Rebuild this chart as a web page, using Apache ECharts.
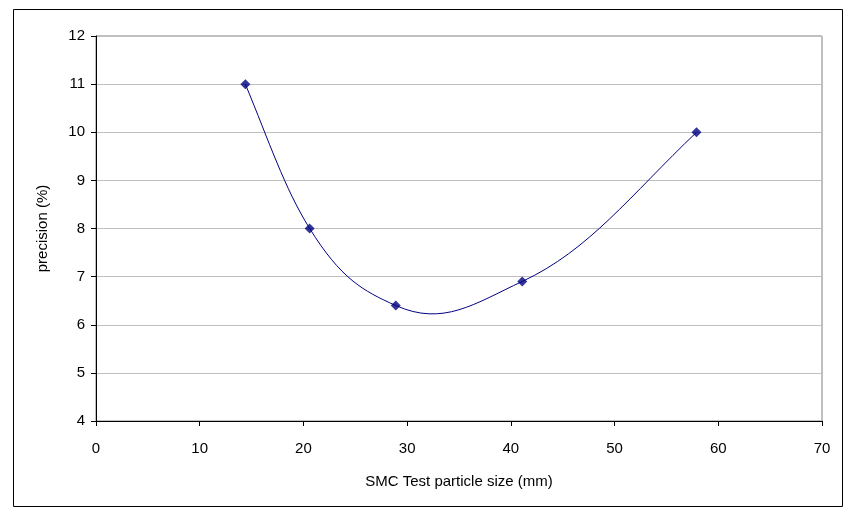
<!DOCTYPE html>
<html>
<head>
<meta charset="utf-8">
<script src="https://cdn.jsdelivr.net/npm/echarts@6/dist/echarts.min.js"></script>
<style>
  html, body { margin: 0; padding: 0; background: #fff; }
  #chart { width: 852px; height: 514px; }
</style>
</head>
<body>
<div id="chart"></div>
<script>
// particle size (mm) vs precision (%)
var particle_size = [14.4, 20.6, 28.9, 41.1, 57.9];
var precision = [11, 8, 6.4, 6.9, 10];

var points = particle_size.map(function (x, i) {
    return [x, precision[i]];
});

var font = 'Liberation Sans, Arial, sans-serif';

// smoothed line: chord-length catmull-rom in data units, drawn as beziers
function renderCurve(params, api) {
    if (params.dataIndex !== 0) return;
    var n = points.length;
    var d = [];
    for (var i = 0; i < n - 1; i++) {
        var dx = points[i + 1][0] - points[i][0];
        var dy = points[i + 1][1] - points[i][1];
        d.push(Math.sqrt(dx * dx + dy * dy));
    }
    function chord(i) {
        return [(points[i + 1][0] - points[i][0]) / d[i], (points[i + 1][1] - points[i][1]) / d[i]];
    }
    var m = [];
    for (var i = 1; i < n - 1; i++) {
        var a = chord(i - 1), b = chord(i);
        var span = d[i - 1] + d[i];
        var sx = (points[i + 1][0] - points[i - 1][0]) / span;
        var sy = (points[i + 1][1] - points[i - 1][1]) / span;
        m[i] = [a[0] - sx + b[0], a[1] - sy + b[1]];
    }
    var c0 = chord(0), cn = chord(n - 2);
    m[0] = [1.25 * c0[0] - 0.25 * m[1][0], 1.25 * c0[1] - 0.25 * m[1][1]];
    m[n - 1] = [1.25 * cn[0] - 0.25 * m[n - 2][0], 1.25 * cn[1] - 0.25 * m[n - 2][1]];

    var f = 0.38;
    var start = api.coord(points[0]);
    var path = 'M' + start[0] + ' ' + start[1];
    for (var i = 0; i < n - 1; i++) {
        var p = points[i], q = points[i + 1];
        var k1 = api.coord([p[0] + m[i][0] * d[i] * f, p[1] + m[i][1] * d[i] * f]);
        var k2 = api.coord([q[0] - m[i + 1][0] * d[i] * f, q[1] - m[i + 1][1] * d[i] * f]);
        var e = api.coord(q);
        path += ' C' + k1[0] + ' ' + k1[1] + ' ' + k2[0] + ' ' + k2[1] + ' ' + e[0] + ' ' + e[1];
    }
    return {
        type: 'path',
        shape: {pathData: path},
        style: {fill: 'none', stroke: '#000080', lineWidth: 1}
    };
}

var option = {
    animation: false,
    graphic: [
        {
            type: 'rect',
            shape: {x: 13.5, y: 9.5, width: 829, height: 497},
            style: {fill: 'none', stroke: '#000', lineWidth: 1}
        }
    ],
    grid: {
        left: 96,
        right: 30,
        top: 36,
        bottom: 93,
        show: true,
        borderColor: '#808080',
        borderWidth: 1
    },
    xAxis: {
        type: 'value',
        min: 0,
        max: 70,
        interval: 10,
        name: 'SMC Test particle size (mm)',
        nameLocation: 'middle',
        nameGap: 53,
        nameTextStyle: {fontFamily: font, fontSize: 15, color: '#000'},
        axisLine: {show: true, lineStyle: {color: '#000', width: 1}},
        axisTick: {show: true, inside: false, length: 5, lineStyle: {color: '#000'}},
        axisLabel: {fontFamily: font, fontSize: 15, color: '#000', margin: 20},
        splitLine: {show: false}
    },
    yAxis: {
        type: 'value',
        min: 4,
        max: 12,
        interval: 1,
        name: 'precision (%)',
        nameLocation: 'middle',
        nameGap: 46,
        nameTextStyle: {fontFamily: font, fontSize: 15, color: '#000'},
        axisLine: {show: true, lineStyle: {color: '#000', width: 1}},
        axisTick: {show: true, inside: false, length: 5, lineStyle: {color: '#000'}},
        axisLabel: {fontFamily: font, fontSize: 15, color: '#000', margin: 11},
        splitLine: {show: true, lineStyle: {color: '#c0c0c0', width: 1}}
    },
    series: [
        {
            type: 'custom',
            data: points,
            renderItem: renderCurve,
            silent: true,
            z: 2
        },
        {
            type: 'scatter',
            data: points,
            symbol: 'diamond',
            symbolSize: 10,
            itemStyle: {color: '#000080'},
            z: 3
        }
    ]
};

var chart = echarts.init(document.getElementById('chart'));
chart.setOption(option);
</script>
</body>
</html>
